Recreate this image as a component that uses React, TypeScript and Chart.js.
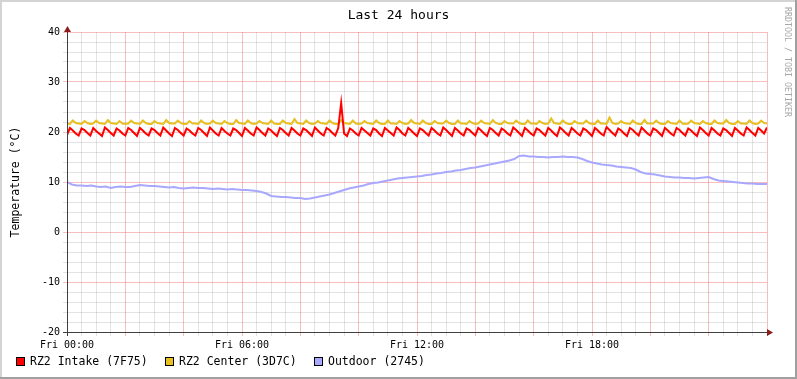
import React, { useEffect, useRef } from 'react';
import Chart from 'chart.js/auto';

const TITLE = 'Last 24 hours';
const Y_TITLE = 'Temperature (°C)';
const WATERMARK = 'RRDTOOL / TOBI OETIKER';
const xTickLabels = ['Fri 00:00', 'Fri 06:00', 'Fri 12:00', 'Fri 18:00'];
const seriesNames = ['RZ2 Intake (7F75)', 'RZ2 Center (3D7C)', 'Outdoor (2745)'];
const seriesColors = ['#ff0000', '#e8c020', '#a8a8ff'];
const INDOOR_STEP_MIN = 6;
const OUTDOOR_STEP_MIN = 10;

const intake = [
  19.4, 20.8, 20.3, 19.7, 19.3, 20.7, 20.4, 19.8, 19.3, 20.8, 20.2, 19.7, 19.2, 20.9, 20.4, 19.8, 19.3, 20.7, 20.3, 19.7,
  19.3, 20.8, 20.4, 19.8, 19.2, 20.8, 20.3, 19.7, 19.3, 20.7, 20.4, 19.8, 19.3, 20.9, 20.3, 19.7, 19.2, 20.8, 20.4, 19.8,
  19.3, 20.7, 20.3, 19.7, 19.3, 20.8, 20.4, 19.8, 19.2, 20.9, 20.3, 19.7, 19.3, 20.8, 20.2, 19.7, 19.3, 20.7, 20.4, 19.8,
  19.2, 20.8, 20.3, 19.7, 19.3, 20.9, 20.4, 19.8, 19.3, 20.7, 20.3, 19.7, 19.2, 20.8, 20.4, 19.8, 19.3, 20.8, 20.3, 19.7,
  19.3, 20.7, 20.4, 19.8, 19.2, 20.9, 20.3, 19.7, 19.3, 20.8, 20.4, 19.8, 19.3, 20.8, 25.8, 19.7, 19.2, 20.7, 20.3, 19.7,
  19.3, 20.8, 20.3, 19.8, 19.3, 20.7, 20.4, 19.7, 19.2, 20.8, 20.3, 19.8, 19.3, 20.9, 20.4, 19.7, 19.3, 20.8, 20.3, 19.7,
  19.2, 20.7, 20.4, 19.8, 19.3, 20.8, 20.3, 19.7, 19.3, 20.9, 20.4, 19.8, 19.2, 20.8, 20.3, 19.7, 19.3, 20.7, 20.4, 19.8,
  19.3, 20.8, 20.3, 19.7, 19.2, 20.8, 20.4, 19.8, 19.3, 20.7, 20.3, 19.7, 19.3, 20.9, 20.4, 19.8, 19.2, 20.8, 20.3, 19.7,
  19.3, 20.7, 20.4, 19.8, 19.3, 20.8, 20.3, 19.7, 19.2, 20.9, 20.4, 19.8, 19.3, 20.8, 20.3, 19.7, 19.3, 20.7, 20.4, 19.8,
  19.2, 20.8, 20.3, 19.7, 19.3, 21.0, 20.4, 19.8, 19.3, 20.7, 20.3, 19.7, 19.2, 20.8, 20.4, 19.8, 19.3, 20.9, 20.3, 19.7,
  19.3, 20.7, 20.4, 19.8, 19.2, 20.8, 20.3, 19.7, 19.3, 20.8, 20.4, 19.8, 19.3, 20.7, 20.3, 19.7, 19.2, 20.9, 20.4, 19.8,
  19.3, 20.8, 20.3, 19.7, 19.3, 20.7, 20.4, 19.8, 19.2, 20.8, 20.3, 19.7, 19.3, 20.9, 20.4, 19.8, 19.3, 20.8, 20.3, 19.7,
  20.9,
];

const center = [
  21.7, 21.6, 22.3, 21.8, 21.7, 21.6, 22.2, 21.8, 21.6, 21.7, 22.3, 21.8, 21.7, 21.6, 22.4, 21.8, 21.7, 21.6, 22.2, 21.7,
  21.6, 21.7, 22.3, 21.8, 21.7, 21.6, 22.3, 21.8, 21.6, 21.6, 22.2, 21.8, 21.7, 21.6, 22.4, 21.8, 21.7, 21.7, 22.3, 21.8,
  21.6, 21.6, 22.2, 21.7, 21.7, 21.6, 22.3, 21.8, 21.6, 21.7, 22.3, 21.8, 21.7, 21.6, 22.2, 21.8, 21.6, 21.6, 22.4, 21.8,
  21.7, 21.6, 22.3, 21.8, 21.6, 21.7, 22.2, 21.8, 21.7, 21.6, 22.3, 21.7, 21.6, 21.6, 22.3, 21.8, 21.7, 21.6, 22.6, 21.8,
  21.7, 21.6, 22.3, 21.8, 21.6, 21.7, 22.2, 21.8, 21.7, 21.6, 22.3, 21.8, 21.6, 21.6, 22.4, 21.8, 21.7, 21.6, 22.3, 21.7,
  21.6, 21.7, 22.2, 21.8, 21.7, 21.6, 22.3, 21.8, 21.6, 21.6, 22.3, 21.7, 21.7, 21.6, 22.2, 21.8, 21.6, 21.7, 22.4, 21.8,
  21.7, 21.6, 22.3, 21.8, 21.6, 21.6, 22.2, 21.8, 21.7, 21.7, 22.3, 21.8, 21.6, 21.6, 22.3, 21.7, 21.7, 21.6, 22.2, 21.8,
  21.6, 21.7, 22.3, 21.8, 21.7, 21.6, 22.4, 21.8, 21.6, 21.6, 22.2, 21.8, 21.7, 21.7, 22.3, 21.8, 21.6, 21.6, 22.3, 21.7,
  21.7, 21.6, 22.2, 21.8, 21.6, 21.7, 22.7, 21.8, 21.7, 21.6, 22.3, 21.8, 21.6, 21.6, 22.2, 21.8, 21.7, 21.7, 22.3, 21.8,
  21.6, 21.6, 22.3, 21.7, 21.7, 21.6, 22.9, 21.8, 21.6, 21.7, 22.2, 21.8, 21.7, 21.6, 22.3, 21.8, 21.6, 21.6, 22.4, 21.7,
  21.7, 21.7, 22.3, 21.8, 21.6, 21.6, 22.2, 21.8, 21.7, 21.6, 22.3, 21.7, 21.6, 21.7, 22.3, 21.8, 21.7, 21.6, 22.2, 21.8,
  21.6, 21.6, 22.3, 21.8, 21.7, 21.7, 22.4, 21.8, 21.6, 21.6, 22.2, 21.7, 21.7, 21.6, 22.3, 21.8, 21.6, 21.7, 22.3, 21.8,
  21.7,
];

const outdoor = [
  10.0, 9.5, 9.3, 9.3, 9.2, 9.3, 9.1, 9.0, 9.1, 8.8, 9.0, 9.1, 9.0, 9.0, 9.2, 9.4, 9.3, 9.2, 9.2, 9.1,
  9.0, 8.9, 9.0, 8.8, 8.7, 8.8, 8.9, 8.8, 8.8, 8.7, 8.6, 8.7, 8.6, 8.5, 8.6, 8.5, 8.4, 8.4, 8.3, 8.2,
  8.0, 7.7, 7.2, 7.1, 7.0, 7.0, 6.9, 6.8, 6.8, 6.6, 6.7, 6.9, 7.1, 7.3, 7.5, 7.8, 8.1, 8.4, 8.7, 8.9,
  9.1, 9.3, 9.6, 9.8, 9.9, 10.1, 10.3, 10.5, 10.7, 10.8, 10.9, 11.0, 11.1, 11.2, 11.4, 11.5, 11.7, 11.8, 12.0, 12.1,
  12.3, 12.4, 12.6, 12.8, 12.9, 13.1, 13.3, 13.5, 13.7, 13.9, 14.1, 14.3, 14.6, 15.2, 15.3, 15.1, 15.1, 15.0, 15.0, 14.9,
  15.0, 15.0, 15.1, 15.0, 15.0, 14.9, 14.6, 14.2, 13.9, 13.7, 13.5, 13.4, 13.3, 13.1, 13.0, 12.9, 12.8, 12.5, 12.0, 11.7,
  11.6, 11.5, 11.3, 11.1, 11.0, 10.9, 10.9, 10.8, 10.8, 10.7, 10.8, 10.9, 11.0, 10.6, 10.3, 10.2, 10.1, 10.0, 9.9, 9.8,
  9.7, 9.7, 9.6, 9.6, 9.6,
];

const MONO = 'DejaVu Sans Mono';
const GRID_MINOR = 'rgba(0,0,0,0.11)';
const GRID_MAJOR = 'rgba(235,110,110,0.45)';

const decor = {
  id: 'decor',
  beforeDraw(chart: any) {
    const { ctx, width, height } = chart;
    ctx.save();
    ctx.fillStyle = '#ffffff';
    ctx.fillRect(0, 0, width, height);
    ctx.restore();
  },
  afterDraw(chart: any) {
    const { ctx, width, height, chartArea: a } = chart;
    ctx.save();
    ctx.fillStyle = '#d4d4d4';
    ctx.fillRect(0, 0, width, 2);
    ctx.fillRect(0, 0, 2, height);
    ctx.fillStyle = '#a0a0a0';
    ctx.fillRect(0, height - 2, width, 2);
    ctx.fillRect(width - 2, 0, 2, height);

    ctx.strokeStyle = '#404040';
    ctx.lineWidth = 1;
    ctx.beginPath();
    ctx.moveTo(a.left - 4, a.bottom + 0.5);
    ctx.lineTo(a.right + 4, a.bottom + 0.5);
    ctx.moveTo(a.left + 0.5, a.bottom + 4);
    ctx.lineTo(a.left + 0.5, a.top - 4);
    ctx.stroke();
    ctx.fillStyle = '#8c1c1c';
    ctx.beginPath();
    ctx.moveTo(a.left + 0.5, a.top - 6);
    ctx.lineTo(a.left - 3, a.top);
    ctx.lineTo(a.left + 4, a.top);
    ctx.closePath();
    ctx.fill();
    ctx.beginPath();
    ctx.moveTo(a.right + 6, a.bottom + 0.5);
    ctx.lineTo(a.right, a.bottom - 3);
    ctx.lineTo(a.right, a.bottom + 4);
    ctx.closePath();
    ctx.fill();

    ctx.fillStyle = '#000';
    ctx.font = `13px "${MONO}"`;
    ctx.textAlign = 'center';
    ctx.textBaseline = 'middle';
    ctx.fillText(TITLE, width / 2, 16);

    ctx.save();
    ctx.font = `11.5px "${MONO}"`;
    ctx.translate(16, (a.top + a.bottom) / 2);
    ctx.rotate(-Math.PI / 2);
    ctx.textAlign = 'center';
    ctx.textBaseline = 'middle';
    ctx.fillText(Y_TITLE, 0, 0);
    ctx.restore();

    ctx.save();
    ctx.fillStyle = '#a8a8a8';
    ctx.font = `8.3px "${MONO}"`;
    ctx.translate(787, 7);
    ctx.rotate(Math.PI / 2);
    ctx.textAlign = 'left';
    ctx.textBaseline = 'middle';
    ctx.fillText(WATERMARK, 0, 0);
    ctx.restore();

    ctx.font = `11.5px "${MONO}"`;
    ctx.textAlign = 'left';
    ctx.textBaseline = 'middle';
    seriesNames.forEach((name, i) => {
      const bx = 16 + i * 149;
      ctx.fillStyle = seriesColors[i];
      ctx.fillRect(bx, 357, 9, 9);
      ctx.strokeStyle = '#000';
      ctx.lineWidth = 1;
      ctx.strokeRect(bx + 0.5, 357.5, 8, 8);
      ctx.fillStyle = '#000';
      ctx.fillText(name, bx + 14, 362);
    });
    ctx.restore();
  },
};

export default function App() {
  const ref = useRef<HTMLCanvasElement | null>(null);
  useEffect(() => {
    document.body.style.margin = '0';
    const canvas = ref.current!;
    const mk = (arr: number[], step: number) => arr.map((y, i) => ({ x: i * step, y }));
    const chart = new Chart(canvas, {
      type: 'line',
      data: {
        datasets: [
          { label: seriesNames[0], data: mk(intake, INDOOR_STEP_MIN), borderColor: seriesColors[0], borderWidth: 2, pointRadius: 0, tension: 0, borderJoinStyle: 'miter' },
          { label: seriesNames[1], data: mk(center, INDOOR_STEP_MIN), borderColor: seriesColors[1], borderWidth: 2, pointRadius: 0, tension: 0 },
          { label: seriesNames[2], data: mk(outdoor, OUTDOOR_STEP_MIN), borderColor: seriesColors[2], borderWidth: 2, pointRadius: 0, tension: 0 },
        ],
      },
      options: {
        animation: false,
        responsive: false,
        devicePixelRatio: 1,
        events: [],
        layout: { padding: { left: 0, top: 32, right: 30, bottom: 0 } },
        plugins: { legend: { display: false }, title: { display: false }, tooltip: { enabled: false } },
        scales: {
          x: {
            type: 'linear',
            min: 0,
            max: 1440,
            afterFit: (s: any) => { s.height = 47; },
            border: { display: false },
            grid: {
              color: (c: any) => (c.tick && c.tick.value % 120 === 0 ? GRID_MAJOR : GRID_MINOR),
              tickLength: 4,
              lineWidth: 1,
            },
            ticks: {
              stepSize: 30,
              autoSkip: false,
              maxRotation: 0,
              minRotation: 0,
              padding: 3,
              color: '#000',
              font: { family: MONO, size: 10 },
              callback: (v: any) => {
                const n = Number(v);
                if (n % 360 === 0 && n / 360 < xTickLabels.length) return xTickLabels[n / 360];
                return '';
              },
            },
          },
          y: {
            type: 'linear',
            min: -20,
            max: 40,
            afterFit: (s: any) => { s.width = 67; },
            border: { display: false },
            grid: {
              color: (c: any) => (c.tick && c.tick.value % 10 === 0 ? GRID_MAJOR : GRID_MINOR),
              tickLength: 4,
              lineWidth: 1,
            },
            ticks: {
              stepSize: 2,
              autoSkip: false,
              padding: 3,
              color: '#000',
              font: { family: MONO, size: 10 },
              callback: (v: any) => (Number(v) % 10 === 0 ? String(v) : ''),
            },
          },
        },
      },
      plugins: [decor],
    } as any);
    return () => chart.destroy();
  }, []);
  return (
    <div style={{ width: 797, height: 379 }}>
      <canvas ref={ref} width={797} height={379} style={{ display: 'block', width: 797, height: 379 }} />
    </div>
  );
}
